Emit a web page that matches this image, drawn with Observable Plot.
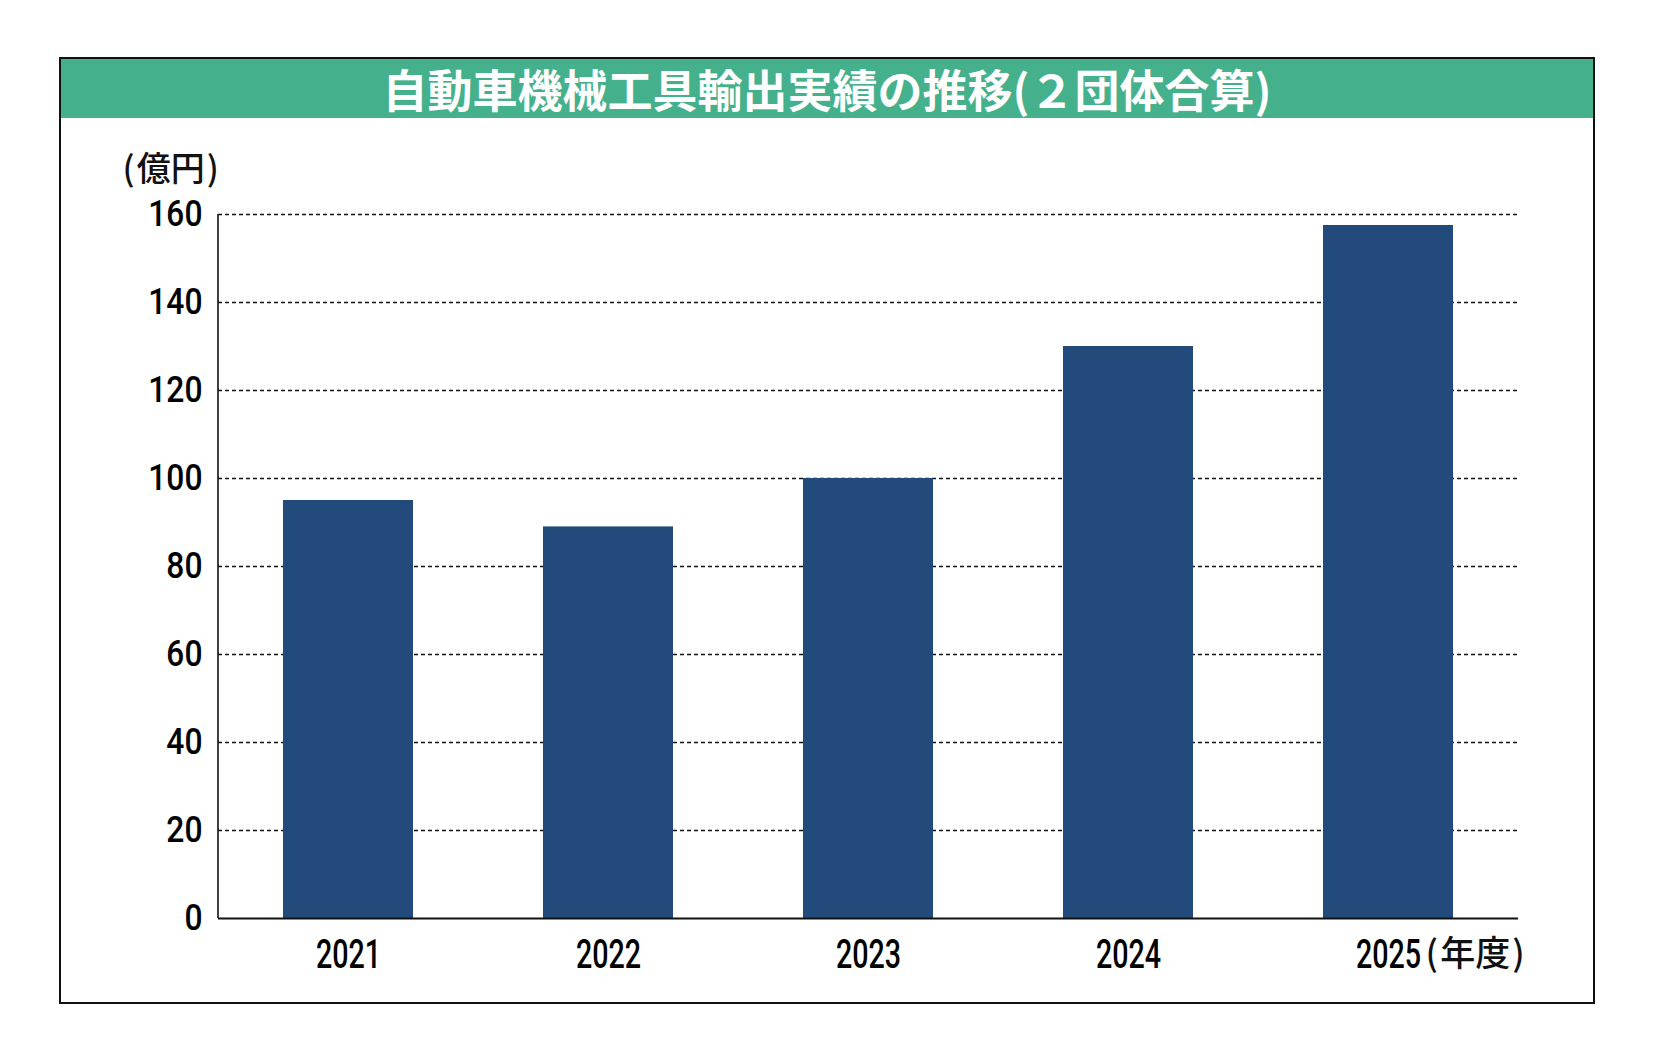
<!DOCTYPE html>
<html>
<head>
<meta charset="utf-8">
<script src="https://cdn.jsdelivr.net/npm/d3@7"></script>
<script src="https://cdn.jsdelivr.net/npm/@observablehq/plot@0.6"></script>
<style>
  html, body { margin: 0; padding: 0; background: #fff; overflow: hidden; }
  #frame {
    position: absolute; left: 59px; top: 57px; width: 1532px; height: 943px;
    border: 2px solid #111; background: #fff;
  }
  #title {
    position: absolute; left: 0; top: 0; width: 100%; height: 59px;
    background: #45B08C; color: #fff;
    font-family: "Noto Sans CJK JP", sans-serif; font-weight: 700;
    font-size: 45px; line-height: 59px; text-align: center;
  }
  #chart { position: absolute; left: 0; top: 0; }
</style>
</head>
<body>
<div id="frame"><div id="title">自動車機械工具輸出実績の推移(２団体合算)</div></div>
<div id="chart"></div>
<script>
const years = [2021, 2022, 2023, 2024, 2025];
const values = [95, 89, 100, 130, 157.5];
const yTicks = [0, 20, 40, 60, 80, 100, 120, 140, 160];
const gridTicks = [20, 40, 60, 80, 100, 120, 140, 160];
const yUnit = "(\u200A億円\u200A)";
const xUnit = "(\u200A年度\u200A)";

const data = years.map((y, i) => ({year: y, value: values[i]}));

const numFont = "Roboto, 'Liberation Sans', sans-serif";
const cjkFont = "'Noto Sans CJK JP', sans-serif";

const yAxisLine = (index, scales, values, dim) => {
  const l = document.createElementNS("http://www.w3.org/2000/svg", "line");
  l.setAttribute("x1", dim.marginLeft);
  l.setAttribute("x2", dim.marginLeft);
  l.setAttribute("y1", dim.marginTop);
  l.setAttribute("y2", dim.height - dim.marginBottom);
  l.setAttribute("stroke", "#111");
  l.setAttribute("stroke-width", 1.6);
  return l;
};

const plot = Plot.plot({
  width: 1654,
  height: 1063,
  marginLeft: 218,
  marginRight: 136,
  marginTop: 214,
  marginBottom: 145,
  style: {background: "transparent", overflow: "visible"},
  x: {type: "band", domain: years, paddingInner: 0.5, paddingOuter: 0.25, align: 0.5},
  y: {domain: [0, 160]},
  marks: [
    Plot.ruleY(gridTicks, {stroke: "#111", strokeWidth: 1.6, strokeDasharray: "4,3"}),
    Plot.barY(data, {x: "year", y: "value", fill: "#224B7B"}),
    Plot.ruleY([0], {stroke: "#111", strokeWidth: 2.2}),
    yAxisLine,
    Plot.axisY({ticks: yTicks, tickSize: 0, tickPadding: 16, fontSize: 37, fontFamily: numFont, fontWeight: 500, label: null}),
    Plot.axisX({tickSize: 0, tickPadding: 20, fontSize: 41, fontFamily: numFont, fontWeight: 500, label: null, tickFormat: d => String(d)}),
    Plot.text([yUnit], {frameAnchor: "top-left", text: d => d, dx: -96, dy: -34, textAnchor: "start", lineAnchor: "bottom", fontSize: 34, fontFamily: cjkFont, fontWeight: 500, fill: "#111"}),
    Plot.text([2025], {x: d => d, text: () => xUnit, frameAnchor: "bottom", dx: 37, dy: 47, textAnchor: "start", lineAnchor: "bottom", fontSize: 35, fontFamily: cjkFont, fontWeight: 500, fill: "#111"})
  ]
});

// condense the numeric tick labels horizontally, like the reference's narrow typeface
function condense(selector, sx) {
  plot.querySelectorAll(selector + " text").forEach(t => {
    const tr = t.getAttribute("transform") || "";
    t.setAttribute("transform", tr + ` scale(${sx},1)`);
  });
}
condense('g[aria-label="y-axis tick label"]', 0.86);
condense('g[aria-label="x-axis tick label"]', 0.70);

document.getElementById("chart").appendChild(plot);
</script>
</body>
</html>
